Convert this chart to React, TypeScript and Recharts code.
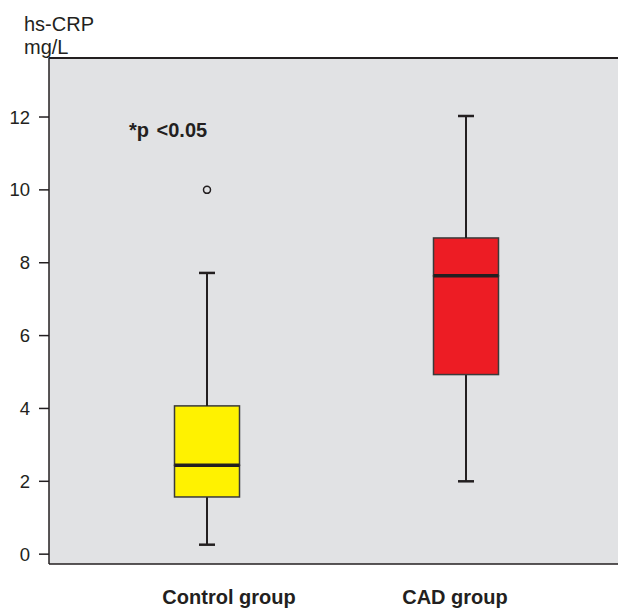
import React from 'react';
import { ComposedChart, Bar, Scatter, XAxis, YAxis, CartesianGrid, ReferenceLine } from 'recharts';

document.body.style.margin = '0';

// box plot values (hs-CRP, mg/L)
const groups = ['Control group', 'CAD group'];
const whiskerLow = [0.26, 2.0];
const q1 = [1.57, 4.93];
const median = [2.44, 7.64];
const q3 = [4.07, 8.68];
const whiskerHigh = [7.72, 12.03];
const outliers = [10.0, null];
const yTicks = [0, 2, 4, 6, 8, 10, 12];
const Y_MIN = -0.27;
const Y_MAX = 13.62;

const BOX_COLORS = ['#fff200', '#ed1c24'];
const LABEL_DX = [22, -11];
const INK = '#231f20';
const FONT = '"Liberation Sans", Arial, sans-serif';

const data = groups.map((name, i) => ({
  name,
  base: whiskerLow[i],
  lowW: q1[i] - whiskerLow[i],
  boxLo: median[i] - q1[i],
  boxHi: q3[i] - median[i],
  highW: whiskerHigh[i] - q3[i],
  outlier: outliers[i],
}));

const Empty = () => null;

const LowWhisker = ({ x, y, width, height }: any) => {
  const cx = x + width / 2;
  return (
    <g>
      <line x1={cx} x2={cx} y1={y} y2={y + height} stroke={INK} strokeWidth={2} />
      <line x1={cx - 8} x2={cx + 8} y1={y + height} y2={y + height} stroke={INK} strokeWidth={2.5} />
    </g>
  );
};

const HighWhisker = ({ x, y, width, height }: any) => {
  const cx = x + width / 2;
  return (
    <g>
      <line x1={cx} x2={cx} y1={y} y2={y + height} stroke={INK} strokeWidth={2} />
      <line x1={cx - 8} x2={cx + 8} y1={y} y2={y} stroke={INK} strokeWidth={2.5} />
    </g>
  );
};

const BoxLow = ({ x, y, width, height, index }: any) => (
  <rect x={x} y={y} width={width} height={height} fill={BOX_COLORS[index]} stroke="#3a3a3a" strokeWidth={1.5} />
);

const BoxHigh = ({ x, y, width, height, index }: any) => (
  <g>
    <rect x={x} y={y} width={width} height={height} fill={BOX_COLORS[index]} stroke="#3a3a3a" strokeWidth={1.5} />
    <line x1={x} x2={x + width} y1={y + height} y2={y + height} stroke={INK} strokeWidth={3.5} />
  </g>
);

const Outlier = ({ cx, cy }: any) => {
  if (typeof cy !== 'number' || isNaN(cy)) return null;
  return <circle cx={cx} cy={cy} r={3.5} fill="none" stroke={INK} strokeWidth={1.5} />;
};

const GroupTick = ({ x, y, payload, index }: any) => (
  <text x={x + LABEL_DX[index]} y={y + 32} textAnchor="middle" fill={INK}
    style={{ fontFamily: FONT, fontSize: 20, fontWeight: 'bold' }}>
    {payload.value}
  </text>
);

const ValueTick = ({ x, y, payload }: any) => (
  <text x={x} y={y} dy={6.5} textAnchor="end" fill={INK} style={{ fontFamily: FONT, fontSize: 18.5 }}>
    {payload.value}
  </text>
);

export default function App() {
  return (
    <div style={{ position: 'relative', width: 618, height: 610, fontFamily: FONT, color: INK }}>
      <div style={{ position: 'absolute', left: 24, top: 13, fontSize: 20, lineHeight: '23px' }}>
        hs-CRP<br />mg/L
      </div>
      <div style={{ position: 'absolute', left: 129, top: 120, fontSize: 20, lineHeight: 1, fontWeight: 'bold', zIndex: 2, wordSpacing: 2 }}>
        *p &lt;0.05
      </div>
      <ComposedChart width={618} height={610} data={data} margin={{ top: 58, right: 0, bottom: 0, left: 0 }}>
        <CartesianGrid horizontal={false} vertical={false} fill="#e1e2e4" />
        <XAxis dataKey="name" height={46} tickLine={false} tick={<GroupTick />}
          axisLine={{ stroke: INK, strokeWidth: 1.5 }} padding={{ left: 28.5, right: 22.5 }} />
        <YAxis width={49} domain={[Y_MIN, Y_MAX]} ticks={yTicks} allowDataOverflow tickSize={10} tickMargin={9}
          axisLine={{ stroke: INK, strokeWidth: 1.5 }} tickLine={{ stroke: INK, strokeWidth: 1.5 }}
          tick={<ValueTick />} />
        <ReferenceLine y={Y_MAX} stroke={INK} strokeWidth={2} />
        <Bar dataKey="base" stackId="box" barSize={65} shape={<Empty />} isAnimationActive={false} />
        <Bar dataKey="lowW" stackId="box" barSize={65} shape={<LowWhisker />} isAnimationActive={false} />
        <Bar dataKey="boxLo" stackId="box" barSize={65} shape={<BoxLow />} isAnimationActive={false} />
        <Bar dataKey="boxHi" stackId="box" barSize={65} shape={<BoxHigh />} isAnimationActive={false} />
        <Bar dataKey="highW" stackId="box" barSize={65} shape={<HighWhisker />} isAnimationActive={false} />
        <Scatter dataKey="outlier" shape={<Outlier />} isAnimationActive={false} />
      </ComposedChart>
    </div>
  );
}
